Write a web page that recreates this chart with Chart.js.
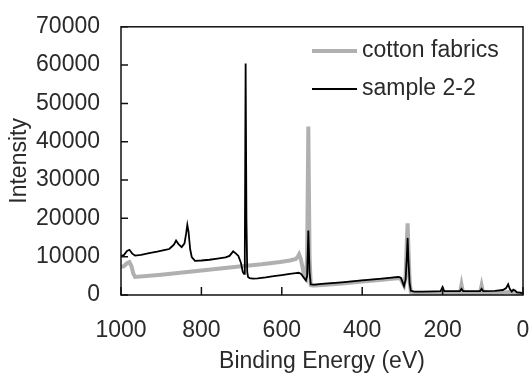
<!DOCTYPE html>
<html>
<head>
<meta charset="utf-8">
<script src="https://cdn.jsdelivr.net/npm/chart.js@4.4.1/dist/chart.umd.min.js"></script>
<style>
  html, body { margin: 0; padding: 0; background: #fff; }
  #wrap { width: 530px; height: 376px; }
</style>
</head>
<body>
<div id="wrap"><canvas id="chartXps" width="530" height="376"></canvas></div>
<script>
// Espectro XPS: energia de enlace (eV) e intensidad
const energiaCotton = [1000, 993, 985, 979, 974, 969, 965, 900, 800, 700, 650, 604, 580, 565, 560, 557, 553, 548, 544, 540, 537, 534, 531, 528, 524, 517, 500, 450, 400, 350, 320, 310, 304, 300, 296, 292, 289, 287, 285, 282, 279, 270, 200, 157, 153, 149, 107, 103, 99, 50, 37, 20, 0];
const intensidadCotton = [7400, 7500, 8300, 8600, 7500, 5500, 4700, 5300, 6400, 7500, 8000, 8600, 9000, 9400, 10000, 10600, 9500, 7000, 4700, 4200, 10000, 44000, 10000, 2600, 2500, 2500, 2600, 3000, 3500, 4000, 4300, 4400, 4200, 3300, 2500, 5000, 14000, 18700, 12000, 3500, 800, 500, 500, 500, 2700, 500, 500, 2500, 500, 600, 800, 500, 300];

const energiaMuestra = [1000, 993, 985, 979, 972, 965, 950, 930, 910, 890, 880, 874, 868, 863, 857, 849, 842, 838, 835, 832, 828, 824, 816, 800, 780, 760, 740, 730, 721, 714, 708, 702, 697, 694, 692, 690, 688, 686, 684, 680, 672, 660, 640, 620, 600, 580, 565, 558, 552, 545, 540, 537, 534, 531, 528, 524, 517, 500, 450, 400, 350, 320, 310, 304, 300, 296, 292, 289, 287, 285, 282, 279, 270, 250, 220, 205, 200, 196, 170, 157, 153, 149, 120, 107, 103, 99, 70, 50, 42, 37, 33, 28, 24, 20, 15, 8, 0];
const intensidadMuestra = [10200, 10400, 11500, 11800, 10800, 10300, 10500, 10900, 11300, 11800, 12000, 12600, 13200, 14200, 13300, 12500, 13500, 16000, 18300, 16500, 12000, 9900, 8900, 9000, 9200, 9500, 9800, 10200, 11400, 10800, 10200, 8500, 6000, 5500, 10000, 60400, 20000, 6000, 4700, 4400, 4300, 4350, 4600, 4900, 5200, 5500, 5700, 5800, 5500, 4500, 3800, 5000, 16800, 6000, 2800, 2700, 2700, 2900, 3300, 3800, 4300, 4600, 4700, 4500, 3500, 2300, 4000, 10000, 14900, 9000, 3000, 1100, 900, 900, 950, 1000, 2100, 1000, 1000, 1000, 1600, 1000, 1000, 1000, 1600, 1000, 1100, 1300, 1800, 2800, 1600, 900, 1400, 1200, 700, 600, 400];

const ticksY = [0, 10000, 20000, 30000, 40000, 50000, 60000, 70000];
const ticksX = [0, 200, 400, 600, 800, 1000];

const FUENTE = '"Liberation Sans", Arial, sans-serif';
const TEXTO = '#2a2a2a';

function aPuntos(xs, ys) {
  return xs.map((x, i) => ({ x: x, y: ys[i] }));
}

// Marco, marcas hacia dentro y leyenda
const marcoPlugin = {
  id: 'marco',
  afterDatasetsDraw(chart) {
    const { ctx, chartArea: a, scales: { x, y } } = chart;
    ctx.save();
    ctx.strokeStyle = '#111';
    ctx.lineWidth = 1.5;
    ctx.strokeRect(a.left, a.top, a.right - a.left, a.bottom - a.top);
    ctx.beginPath();
    ticksX.forEach(v => {
      const px = x.getPixelForValue(v);
      ctx.moveTo(px, a.bottom);
      ctx.lineTo(px, a.bottom - 8);
    });
    ticksY.forEach(v => {
      const py = y.getPixelForValue(v);
      ctx.moveTo(a.left, py);
      ctx.lineTo(a.left + 7, py);
    });
    ctx.stroke();

    // leyenda
    ctx.font = `23px ${FUENTE}`;
    ctx.textBaseline = 'middle';
    ctx.fillStyle = TEXTO;
    chart.data.datasets.forEach((ds, i) => {
      const yy = 51 + i * 38;
      ctx.beginPath();
      ctx.strokeStyle = ds.borderColor;
      ctx.lineWidth = ds.borderWidth;
      ctx.moveTo(312, yy);
      ctx.lineTo(357, yy);
      ctx.stroke();
      ctx.fillText(ds.label, 362, yy);
    });
    ctx.restore();
  }
};

new Chart(document.getElementById('chartXps'), {
  type: 'line',
  data: {
    datasets: [
      {
        label: 'cotton fabrics',
        data: aPuntos(energiaCotton, intensidadCotton),
        borderColor: '#b0b0b0',
        borderWidth: 4,
        pointRadius: 0,
        tension: 0,
        order: 2
      },
      {
        label: 'sample 2-2',
        data: aPuntos(energiaMuestra, intensidadMuestra),
        borderColor: '#000000',
        borderWidth: 1.8,
        pointRadius: 0,
        tension: 0,
        order: 1
      }
    ]
  },
  options: {
    responsive: false,
    animation: false,
    layout: { padding: { top: 24, right: 7, left: 0, bottom: 0 } },
    plugins: { legend: { display: false }, tooltip: { enabled: false } },
    scales: {
      x: {
        type: 'linear',
        reverse: true,
        min: 0,
        max: 1000,
        afterFit: s => { s.height = 81; },
        afterBuildTicks: s => { s.ticks = ticksX.map(v => ({ value: v })); },
        grid: { display: false },
        border: { display: false },
        ticks: {
          padding: 14,
          color: TEXTO,
          font: { size: 23, family: FUENTE },
          callback: v => String(v)
        },
        title: {
          display: true,
          text: 'Binding Energy (eV)',
          color: TEXTO,
          font: { size: 23, family: FUENTE },
          padding: { top: 0, bottom: 1 }
        }
      },
      y: {
        min: 0,
        max: 70000,
        afterFit: s => { s.width = 121; },
        afterBuildTicks: s => { s.ticks = ticksY.map(v => ({ value: v })); },
        grid: { display: false },
        border: { display: false },
        ticks: {
          padding: 13,
          color: TEXTO,
          font: { size: 23, family: FUENTE },
          callback: v => String(v)
        },
        title: {
          display: true,
          text: 'Intensity',
          color: TEXTO,
          font: { size: 23, family: FUENTE },
          padding: { top: 6, bottom: 0 }
        }
      }
    }
  },
  plugins: [marcoPlugin]
});
</script>
</body>
</html>
